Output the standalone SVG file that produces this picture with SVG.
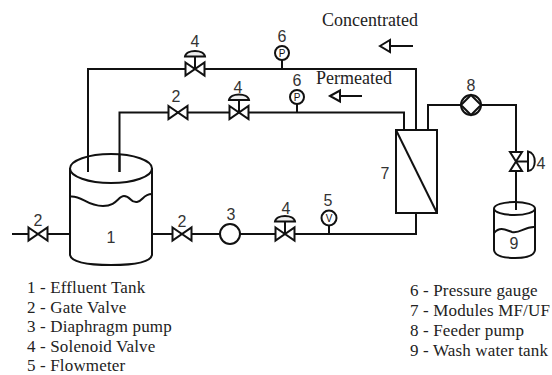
<svg xmlns="http://www.w3.org/2000/svg" width="552" height="375" viewBox="0 0 552 375">
<defs>
<style>
.l{fill:none;stroke:#111;stroke-width:2;stroke-linejoin:miter}
.f{fill:#fff;stroke:#111;stroke-width:2}
.t{font-family:"Liberation Serif",serif;font-size:17px;letter-spacing:.15px;fill:#222}
.c{font-family:"Liberation Serif",serif;font-size:18px;fill:#222}
.n{font-family:"Liberation Sans",sans-serif;font-size:16px;fill:#333;text-anchor:middle}
.s{font-family:"Liberation Sans",sans-serif;font-size:10px;fill:#111;text-anchor:middle}
</style>
<g id="gate"><path class="f" d="M-9.500-6.500L9.500 6.500V-6.500L-9.500 6.500Z"/></g>
<g id="sol"><path class="l" d="M0 0V-12"/><path d="M-10-12.500C-9-20 9-20 10-12.500Z" fill="#eee" stroke="#111" stroke-width="2"/><use href="#gate"/></g>
</defs>
<rect width="552" height="375" fill="#fff"/>
<g id="connectors" class="l">
<path class="l" d="M88 172V69H416V130"/>
<path class="l" d="M119.500 172V112.500H404V130"/>
<path class="l" d="M12 234H70"/>
<path class="l" d="M152 234H416V213"/>
<path class="l" d="M428 130V105H516V210"/>
<path class="l" d="M282 60V69M297 104V112.500M329 226V234"/>
</g>
<g id="tank1">
<path class="l" d="M70 168V255Q72 265 111 265Q150 265 152 255V168"/>
<ellipse class="l" cx="111" cy="168.500" rx="41" ry="14.500"/>
<path class="l" d="M70 196.500C82 195 86 206 103 206C117 206 118 196 124 196C131 196 130 203 137 202C143 201 143 194 152 194"/>
<path class="l" d="M88 155V172M119.500 154V172"/>
<text class="n" x="111" y="243">1</text>
</g>
<g id="valve2a"><use href="#gate" x="38" y="234"/><text class="n" x="38" y="226">2</text></g>
<g id="valve2b"><use href="#gate" x="182" y="234"/><text class="n" x="182" y="227">2</text></g>
<g id="valve2c"><use href="#gate" x="178" y="112.500"/><text class="n" x="176" y="102">2</text></g>
<g id="valve4a"><use href="#sol" x="195" y="69"/><text class="n" x="195" y="47">4</text></g>
<g id="valve4b"><use href="#sol" x="239" y="112.500"/><text class="n" x="238" y="93">4</text></g>
<g id="valve4c"><use href="#sol" x="285" y="234"/><text class="n" x="286" y="214">4</text></g>
<g id="pump3"><circle class="f" cx="230" cy="234" r="10"/><text class="n" x="231" y="220">3</text></g>
<g id="gauge5"><circle class="f" cx="329" cy="218" r="7.500"/><text class="s" x="329" y="222">V</text><text class="n" x="328" y="206">5</text></g>
<g id="gauge6a"><circle class="f" cx="282" cy="53" r="7"/><text class="s" x="282" y="57">P</text><text class="n" x="282" y="42">6</text></g>
<g id="gauge6b"><circle class="f" cx="297" cy="97" r="7"/><text class="s" x="297" y="101">P</text><text class="n" x="297" y="86">6</text></g>
<g id="module7">
<rect class="f" x="396" y="130" width="41" height="83"/>
<path class="l" d="M396 130L437 213"/>
<text class="n" x="385" y="179">7</text>
</g>
<g id="pump8">
<circle class="f" cx="471" cy="105" r="10"/>
<path class="f" d="M471 95L481 105L471 115L461 105Z"/>
<text class="n" x="471" y="91">8</text>
</g>
<g id="valve4d">
<path class="f" d="M510 152H522L510 171H522Z"/>
<path class="l" d="M516 161.500H528"/>
<path class="f" d="M528 151.500C537 153 537 170 528 171Z"/>
<text class="n" x="541" y="169">4</text>
</g>
<g id="tank9">
<path class="l" d="M494 209V250Q495 258 515 258Q534 258 535 250V209"/>
<ellipse class="l" cx="514.500" cy="208.500" rx="20.500" ry="6.500"/>
<path class="l" d="M494 233C500 226 506 230 512 232C520 234 525 226 535 227"/>
<path class="l" d="M516 200V210"/>
<text class="n" x="514" y="249">9</text>
</g>
<g id="flow-labels">
<text class="c" x="322" y="26">Concentrated</text>
<path class="l" d="M413 46H386"/><path class="f" d="M380 46L390 40V52Z"/>
<text class="c" x="316" y="84">Permeated</text>
<path class="l" d="M362 96H336"/><path class="f" d="M330 96L340 90.500V101.500Z"/>
</g>
<g id="legend">
<text class="t" x="27" y="293">1 - Effluent Tank</text>
<text class="t" x="27" y="312.500">2 - Gate Valve</text>
<text class="t" x="27" y="332">3 - Diaphragm pump</text>
<text class="t" x="27" y="351.500">4 - Solenoid Valve</text>
<text class="t" x="27" y="371">5 - Flowmeter</text>
<text class="t" x="410" y="296">6 - Pressure gauge</text>
<text class="t" x="410" y="316">7 - Modules MF/UF</text>
<text class="t" x="410" y="336">8 - Feeder pump</text>
<text class="t" x="410" y="356">9 - Wash water tank</text>
</g>
</svg>
